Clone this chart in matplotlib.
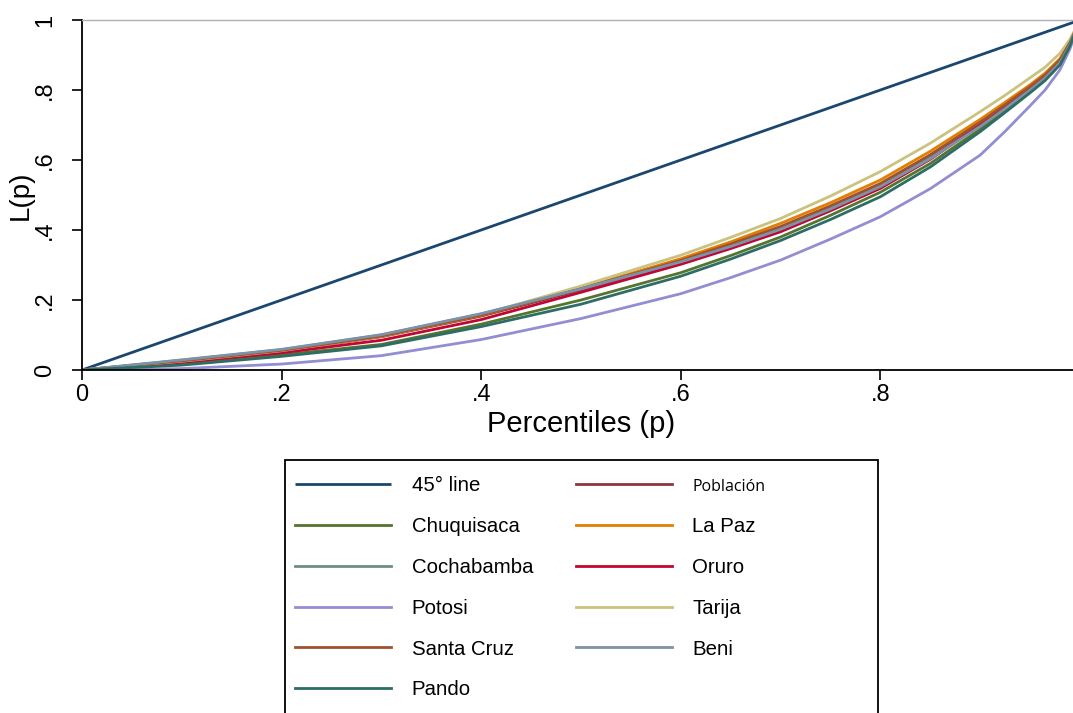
import matplotlib
matplotlib.use("Agg")
import matplotlib.pyplot as plt
from matplotlib.patches import Rectangle

# Percentile grid (p) and Lorenz curve values L(p)
p = [0, .1, .2, .3, .4, .5, .6, .65, .7, .75, .8, .85, .9, .925, .95, .965, .98, .99, 1]

tarija     = [0, .025, .055, .097, .158, .240, .328, .379, .433, .497, .567, .648, .738, .785, .835, .865, .905, .945, 1]
la_paz     = [0, .025, .055, .096, .156, .234, .318, .366, .419, .478, .543, .625, .716, .765, .815, .848, .890, .938, 1]
santa_cruz = [0, .026, .056, .097, .157, .232, .313, .360, .410, .469, .533, .615, .708, .758, .810, .843, .886, .936, 1]
poblacion  = [0, .025, .055, .095, .154, .229, .309, .355, .405, .464, .528, .610, .703, .754, .806, .840, .883, .934, 1]
cochabamba = [0, .028, .058, .100, .160, .232, .310, .354, .403, .462, .525, .606, .698, .749, .802, .836, .880, .932, 1]
beni       = [0, .029, .059, .101, .161, .232, .309, .353, .402, .460, .524, .604, .696, .747, .800, .834, .878, .930, 1]
oruro      = [0, .022, .049, .085, .144, .222, .302, .347, .395, .455, .519, .602, .700, .752, .806, .840, .883, .934, 1]
chuquisaca = [0, .017, .043, .073, .131, .200, .278, .327, .380, .442, .508, .590, .688, .742, .797, .832, .876, .929, 1]
pando      = [0, .014, .039, .069, .124, .188, .268, .317, .370, .430, .495, .580, .681, .736, .792, .827, .872, .926, 1]
potosi     = [0, .004, .017, .041, .087, .147, .218, .264, .314, .374, .438, .518, .614, .682, .755, .800, .858, .918, 1]

line45 = [0, 1]

x_ticks = [0, .2, .4, .6, .8]
x_tick_labels = ["0", ".2", ".4", ".6", ".8"]
y_ticks = [0, .2, .4, .6, .8, 1]
y_tick_labels = ["0", ".2", ".4", ".6", ".8", "1"]

series = [
    ("Población", poblacion, "#90353b"),
    ("Chuquisaca", chuquisaca, "#55752f"),
    ("La Paz", la_paz, "#e37e00"),
    ("Cochabamba", cochabamba, "#6e8e84"),
    ("Oruro", oruro, "#c10534"),
    ("Potosi", potosi, "#938dd2"),
    ("Tarija", tarija, "#cac27e"),
    ("Santa Cruz", santa_cruz, "#a0522d"),
    ("Beni", beni, "#7b92a8"),
    ("Pando", pando, "#2d6d66"),
]

plt.rcParams['font.family'] = ['Liberation Sans', 'DejaVu Sans']

W, H = 1073, 713
fig = plt.figure(figsize=(W / 100, H / 100), dpi=100)
fig.patch.set_facecolor("white")
ax = fig.add_axes([82 / W, (H - 370) / H, 998 / W, 350 / H])

LW = 2.0
handles = {}
h, = ax.plot(line45, line45, color="#1a476f", lw=LW, solid_capstyle="butt")
handles["45° line"] = h
for name, vals, col in series:
    h, = ax.plot(p, vals, color=col, lw=LW)
    handles[name] = h

ax.set_xlim(0, 1)
ax.set_ylim(0, 1)
ax.set_xticks(x_ticks)
ax.set_xticklabels(x_tick_labels)
ax.set_yticks(y_ticks)
ax.set_yticklabels(y_tick_labels, rotation=90, va="center")
ax.tick_params(axis="both", direction="out", length=7.2, width=1.2, labelsize=17, colors="black")
ax.tick_params(axis="x", pad=3)
ax.tick_params(axis="y", pad=11.5)
for s in ["left", "bottom"]:
    ax.spines[s].set_linewidth(1.3)
    ax.spines[s].set_color("black")
ax.spines["top"].set_color("#b0b0b0")
ax.spines["top"].set_linewidth(1.0)
ax.spines["right"].set_visible(False)

ax.set_xlabel("Percentiles (p)", fontsize=21, labelpad=3)
ax.set_ylabel("L(p)", fontsize=20, labelpad=0)

order = ["45° line", "Chuquisaca", "Cochabamba", "Potosi", "Santa Cruz", "Pando",
         "Población", "La Paz", "Oruro", "Tarija", "Beni"]
leg = fig.legend([handles[k] for k in order], order, ncol=2,
                 loc="upper left", bbox_to_anchor=(283 / W, 1 - 464 / H),
                 frameon=False,
                 fontsize=14.7, handlelength=4.7, handletextpad=1.0,
                 columnspacing=2.1, labelspacing=1.07, borderpad=0.6,
                 borderaxespad=0)
for t in leg.get_texts():
    if t.get_text() == "Población":
        t.set_fontfamily(["Open Sans", "DejaVu Sans"])
        t.set_fontsize(11.5)
for l in leg.get_lines():
    l.set_linewidth(2.0)

# legend frame (extends past the bottom edge of the image, as in the original)
frame = Rectangle((285 / W, -0.02), (878 - 285) / W, (1 - 460 / H) + 0.02,
                  transform=fig.transFigure, fill=False, edgecolor="black", lw=1.3)
fig.add_artist(frame)

fig.savefig("out.png", dpi=100)
